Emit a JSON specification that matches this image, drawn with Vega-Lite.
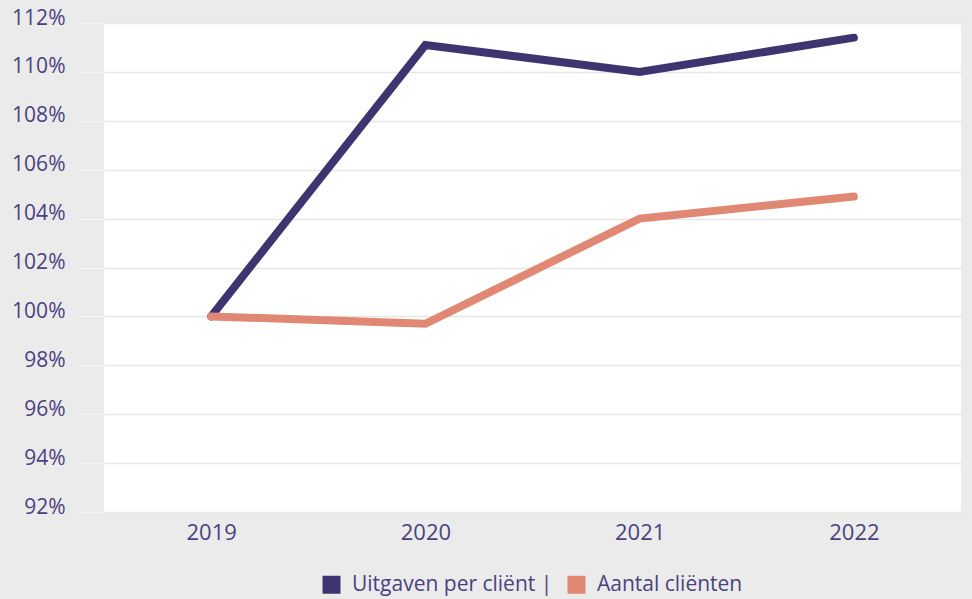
{
  "$schema": "https://vega.github.io/schema/vega-lite/v6.json",
  "width": 857,
  "height": 489,
  "autosize": "none",
  "padding": {"left": 104, "top": 23, "right": 11, "bottom": 87},
  "background": "#ebebeb",
  "view": {"fill": "#ffffff", "stroke": null},
  "config": {"font": "Open Sans"},
  "data": {
    "values": [
      {"jaar": "2019", "reeks": "Uitgaven per cliënt", "waarde": 100},
      {"jaar": "2020", "reeks": "Uitgaven per cliënt", "waarde": 111.1},
      {"jaar": "2021", "reeks": "Uitgaven per cliënt", "waarde": 110},
      {"jaar": "2022", "reeks": "Uitgaven per cliënt", "waarde": 111.4},
      {"jaar": "2019", "reeks": "Aantal cliënten", "waarde": 100},
      {"jaar": "2020", "reeks": "Aantal cliënten", "waarde": 99.7},
      {"jaar": "2021", "reeks": "Aantal cliënten", "waarde": 104},
      {"jaar": "2022", "reeks": "Aantal cliënten", "waarde": 104.9}
    ]
  },
  "mark": {"type": "line", "strokeWidth": 8, "strokeCap": "round"},
  "encoding": {
    "x": {
      "field": "jaar",
      "type": "ordinal",
      "scale": {"type": "point", "padding": 0.5},
      "axis": {
        "title": null,
        "labelAngle": 0,
        "domain": false,
        "ticks": false,
        "grid": false,
        "labelFontSize": 22,
        "labelColor": "#4a4280",
        "labelPadding": 10,
        "labelBaseline": "top"
      }
    },
    "y": {
      "field": "waarde",
      "type": "quantitative",
      "scale": {"domain": [92, 112], "nice": false, "zero": false},
      "axis": {
        "title": null,
        "values": [92, 94, 96, 98, 100, 102, 104, 106, 108, 110, 112],
        "labelExpr": "datum.value + '%'",
        "domain": false,
        "tickSize": 26,
        "tickColor": "#f7f7f7",
        "gridColor": "#e6e6e6",
        "gridWidth": 1.5,
        "labelPadding": 13,
        "labelFontSize": 21,
        "labelColor": "#4a4280",
        "labelOffset": -5
      }
    },
    "color": {
      "field": "reeks",
      "type": "nominal",
      "sort": ["Uitgaven per cliënt", "Aantal cliënten"],
      "scale": {"domain": ["Uitgaven per cliënt", "Aantal cliënten"], "range": ["#3d3470", "#e08873"]},
      "legend": {
        "title": null,
        "orient": "none",
        "legendX": 217,
        "legendY": 551,
        "direction": "horizontal",
        "symbolType": "square",
        "symbolSize": 324,
        "symbolStrokeWidth": 0,
        "labelFontSize": 21,
        "labelLimit": 500,
        "labelColor": "#4a4280",
        "labelOffset": 10,
        "columnPadding": 8,
        "labelExpr": "datum.label == 'Uitgaven per cliënt' ? 'Uitgaven per cliënt  |' : datum.label",
        "encode": {
          "symbols": {"update": {"fill": {"scale": "color", "field": "value"}, "opacity": {"value": 1}}}
        }
      }
    }
  }
}
